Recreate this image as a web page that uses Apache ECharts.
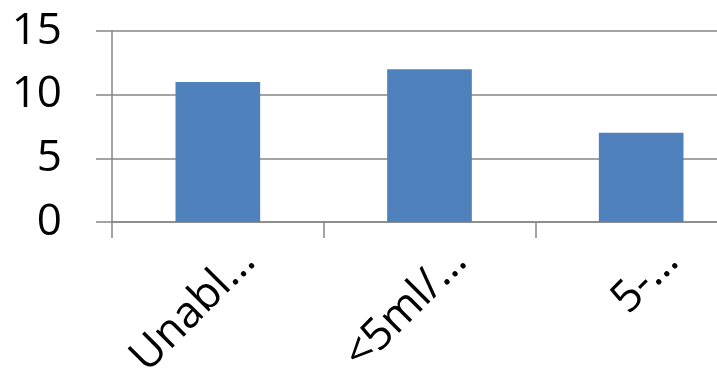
<!DOCTYPE html>
<html>
<head>
<meta charset="utf-8">
<script src="https://cdn.jsdelivr.net/npm/echarts@6/dist/echarts.min.js"></script>
<style>
  html, body { margin: 0; padding: 0; background: #ffffff; }
  #chart { width: 717px; height: 373px; }
</style>
</head>
<body>
<div id="chart"></div>
<script>
// Category labels as shown on the axis (already shortened)
const categories = ['Unabl…', '<5ml/…', '5-…'];
// Bar values
const values = [11, 12, 7];
// Value axis range
const yMin = 0;
const yMax = 15;
const yStep = 5;

const lineGray = '#868686';
const fontFamily = '"Open Sans", "Liberation Sans", sans-serif';

const chart = echarts.init(document.getElementById('chart'), null, { renderer: 'canvas' });
chart.setOption({
  animation: false,
  backgroundColor: '#ffffff',
  grid: {
    left: 112, top: 31, bottom: 151, right: -30,
    containLabel: false,
    outerBoundsMode: 'none'
  },
  xAxis: {
    type: 'category',
    data: categories,
    boundaryGap: true,
    axisLine: { show: true, lineStyle: { color: lineGray, width: 1.5 } },
    axisTick: { show: true, length: 16, alignWithLabel: false, interval: 0, lineStyle: { color: lineGray, width: 1.5 } },
    axisLabel: {
      interval: 0,
      rotate: 45,
      margin: 2,
      color: '#000000',
      fontSize: 44,
      fontFamily: fontFamily,
      verticalAlign: 'top',
      padding: [21, 0, 0, 0]
    },
    splitLine: { show: false }
  },
  yAxis: {
    type: 'value',
    min: yMin,
    max: yMax,
    interval: yStep,
    axisLine: { show: true, lineStyle: { color: lineGray, width: 1.5 } },
    axisTick: { show: true, length: 16, lineStyle: { color: lineGray, width: 1.5 } },
    axisLabel: { margin: 50, color: '#000000', fontSize: 44, fontFamily: fontFamily },
    splitLine: { show: true, lineStyle: { color: lineGray, width: 1.5 } }
  },
  series: [{
    type: 'bar',
    data: values,
    barWidth: '40%',
    itemStyle: { color: '#4F81BD' }
  }]
});
</script>
</body>
</html>
